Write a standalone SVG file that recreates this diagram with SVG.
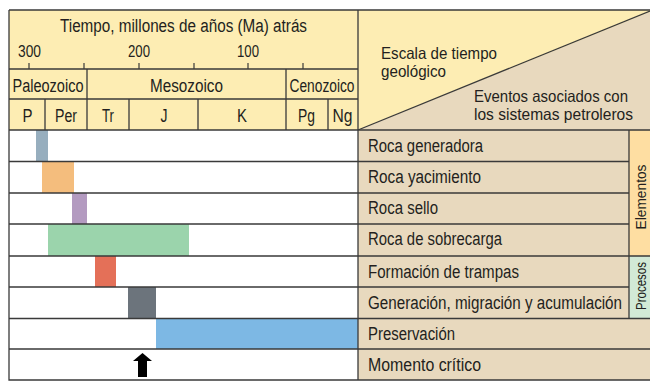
<svg xmlns="http://www.w3.org/2000/svg" width="650" height="381" viewBox="0 0 650 381">
<style>
.t{font-family:"Liberation Sans Narrow","Liberation Sans",Arial,sans-serif;fill:#231f20;font-size:18px}
.n{font-size:16.5px}
.s{font-size:15.5px}
.h{font-size:16.5px}
.c{text-anchor:middle}
.ln{stroke:#3a3a3a;stroke-width:1.3;fill:none}
.tk{stroke:#3a3a3a;stroke-width:1.2}
</style>
<rect x="0" y="0" width="650" height="381" fill="#ffffff"/>
<g id="header">
<rect x="9" y="10" width="349" height="120" fill="#fdedb3"/>
<text class="t c" x="183.5" y="32" textLength="247" lengthAdjust="spacingAndGlyphs">Tiempo, millones de años (Ma) atrás</text>
<g id="scale">
<text class="t n c" x="29.5" y="57" textLength="23" lengthAdjust="spacingAndGlyphs">300</text>
<text class="t n c" x="139" y="57" textLength="22" lengthAdjust="spacingAndGlyphs">200</text>
<text class="t n c" x="248" y="57" textLength="22" lengthAdjust="spacingAndGlyphs">100</text>
<line class="tk" x1="29" y1="63" x2="29" y2="69"/>
<line class="tk" x1="84" y1="63" x2="84" y2="69"/>
<line class="tk" x1="139" y1="63" x2="139" y2="69"/>
<line class="tk" x1="194" y1="63" x2="194" y2="69"/>
<line class="tk" x1="248" y1="63" x2="248" y2="69"/>
<line class="tk" x1="303" y1="63" x2="303" y2="69"/>
</g>
<g id="eras">
<text class="t c" x="48" y="91.5" textLength="71" lengthAdjust="spacingAndGlyphs">Paleozoico</text>
<text class="t c" x="186.5" y="91.5" textLength="73" lengthAdjust="spacingAndGlyphs">Mesozoico</text>
<text class="t c" x="322" y="91.5" textLength="65" lengthAdjust="spacingAndGlyphs">Cenozoico</text>
</g>
<g id="periods">
<text class="t c" x="27.5" y="122" textLength="10" lengthAdjust="spacingAndGlyphs">P</text>
<text class="t c" x="66" y="122" textLength="22" lengthAdjust="spacingAndGlyphs">Per</text>
<text class="t c" x="108" y="122" textLength="12" lengthAdjust="spacingAndGlyphs">Tr</text>
<text class="t c" x="164" y="122" textLength="7" lengthAdjust="spacingAndGlyphs">J</text>
<text class="t c" x="242" y="122" textLength="10" lengthAdjust="spacingAndGlyphs">K</text>
<text class="t c" x="306.5" y="122" textLength="17" lengthAdjust="spacingAndGlyphs">Pg</text>
<text class="t c" x="342.5" y="122" textLength="20" lengthAdjust="spacingAndGlyphs">Ng</text>
</g>
</g>
<g id="corner">
<rect x="358" y="10" width="292" height="120" fill="#e8d9be"/>
<polygon points="358,10 650,10 650,12 358,130" fill="#fdedb3"/>
<line class="ln" x1="358" y1="130" x2="650" y2="11"/>
<text class="t h" x="381" y="59" textLength="116" lengthAdjust="spacingAndGlyphs">Escala de tiempo</text>
<text class="t h" x="381" y="77" textLength="65" lengthAdjust="spacingAndGlyphs">geológico</text>
<text class="t h" x="474" y="102" textLength="154" lengthAdjust="spacingAndGlyphs">Eventos asociados con</text>
<text class="t h" x="474" y="120" textLength="159" lengthAdjust="spacingAndGlyphs">los sistemas petroleros</text>
</g>
<g id="rows">
<rect x="9" y="130" width="349" height="250" fill="#ffffff"/>
<rect x="358" y="130" width="292" height="250" fill="#e8d9be"/>
<rect id="bar-generadora" x="36" y="130" width="12" height="31.5" fill="#97aebe"/>
<rect id="bar-yacimiento" x="42" y="161.5" width="32" height="31.5" fill="#f4bd7d"/>
<rect id="bar-sello" x="72" y="193" width="15" height="31" fill="#b39ac0"/>
<rect id="bar-sobrecarga" x="48" y="224" width="141" height="32" fill="#9bd4ac"/>
<rect id="bar-trampas" x="95" y="256" width="21" height="31" fill="#e47058"/>
<rect id="bar-generacion" x="128" y="287" width="28" height="31" fill="#6c747c"/>
<rect id="bar-preservacion" x="156" y="318" width="202" height="31" fill="#7db8e4"/>
<polygon id="critical-arrow" points="142.5,353 152,361 147,361 147,377 138,377 138,361 133,361" fill="#000000"/>
</g>
<g id="sidebar">
<rect x="629" y="130" width="21" height="126" fill="#fedea2"/>
<rect x="629" y="256" width="21" height="62.5" fill="#d2e9d6"/>
<text class="t s c" transform="translate(646,197) rotate(-90)" textLength="65" lengthAdjust="spacingAndGlyphs">Elementos</text>
<text class="t s c" transform="translate(646,286) rotate(-90)" textLength="48" lengthAdjust="spacingAndGlyphs">Procesos</text>
</g>
<g id="labels">
<text class="t" x="368" y="152" textLength="115" lengthAdjust="spacingAndGlyphs">Roca generadora</text>
<text class="t" x="368" y="183" textLength="113" lengthAdjust="spacingAndGlyphs">Roca yacimiento</text>
<text class="t" x="368" y="214" textLength="70" lengthAdjust="spacingAndGlyphs">Roca sello</text>
<text class="t" x="368" y="245" textLength="134" lengthAdjust="spacingAndGlyphs">Roca de sobrecarga</text>
<text class="t" x="368" y="278" textLength="151" lengthAdjust="spacingAndGlyphs">Formación de trampas</text>
<text class="t" x="368" y="309" textLength="254" lengthAdjust="spacingAndGlyphs">Generación, migración y acumulación</text>
<text class="t" x="368" y="340" textLength="87" lengthAdjust="spacingAndGlyphs">Preservación</text>
<text class="t" x="368" y="371" textLength="113" lengthAdjust="spacingAndGlyphs">Momento crítico</text>
</g>
<g id="connectors">
<path class="ln" d="M9,10 H650 M9,10 V380 H650 M358,10 V380"/>
<path class="ln" d="M9,69 H358 M9,99 H358 M9,130 H650"/>
<path class="ln" d="M87,69 V130 M286,69 V130 M45,99 V130 M129,99 V130 M198,99 V130 M328,99 V130"/>
<path class="ln" d="M9,161.5 H629 M9,193 H629 M9,224 H629 M9,256 H650 M9,287 H629 M9,318.5 H650 M9,349 H650"/>
<path class="ln" d="M629,130 V318.5"/>
</g>
</svg>
